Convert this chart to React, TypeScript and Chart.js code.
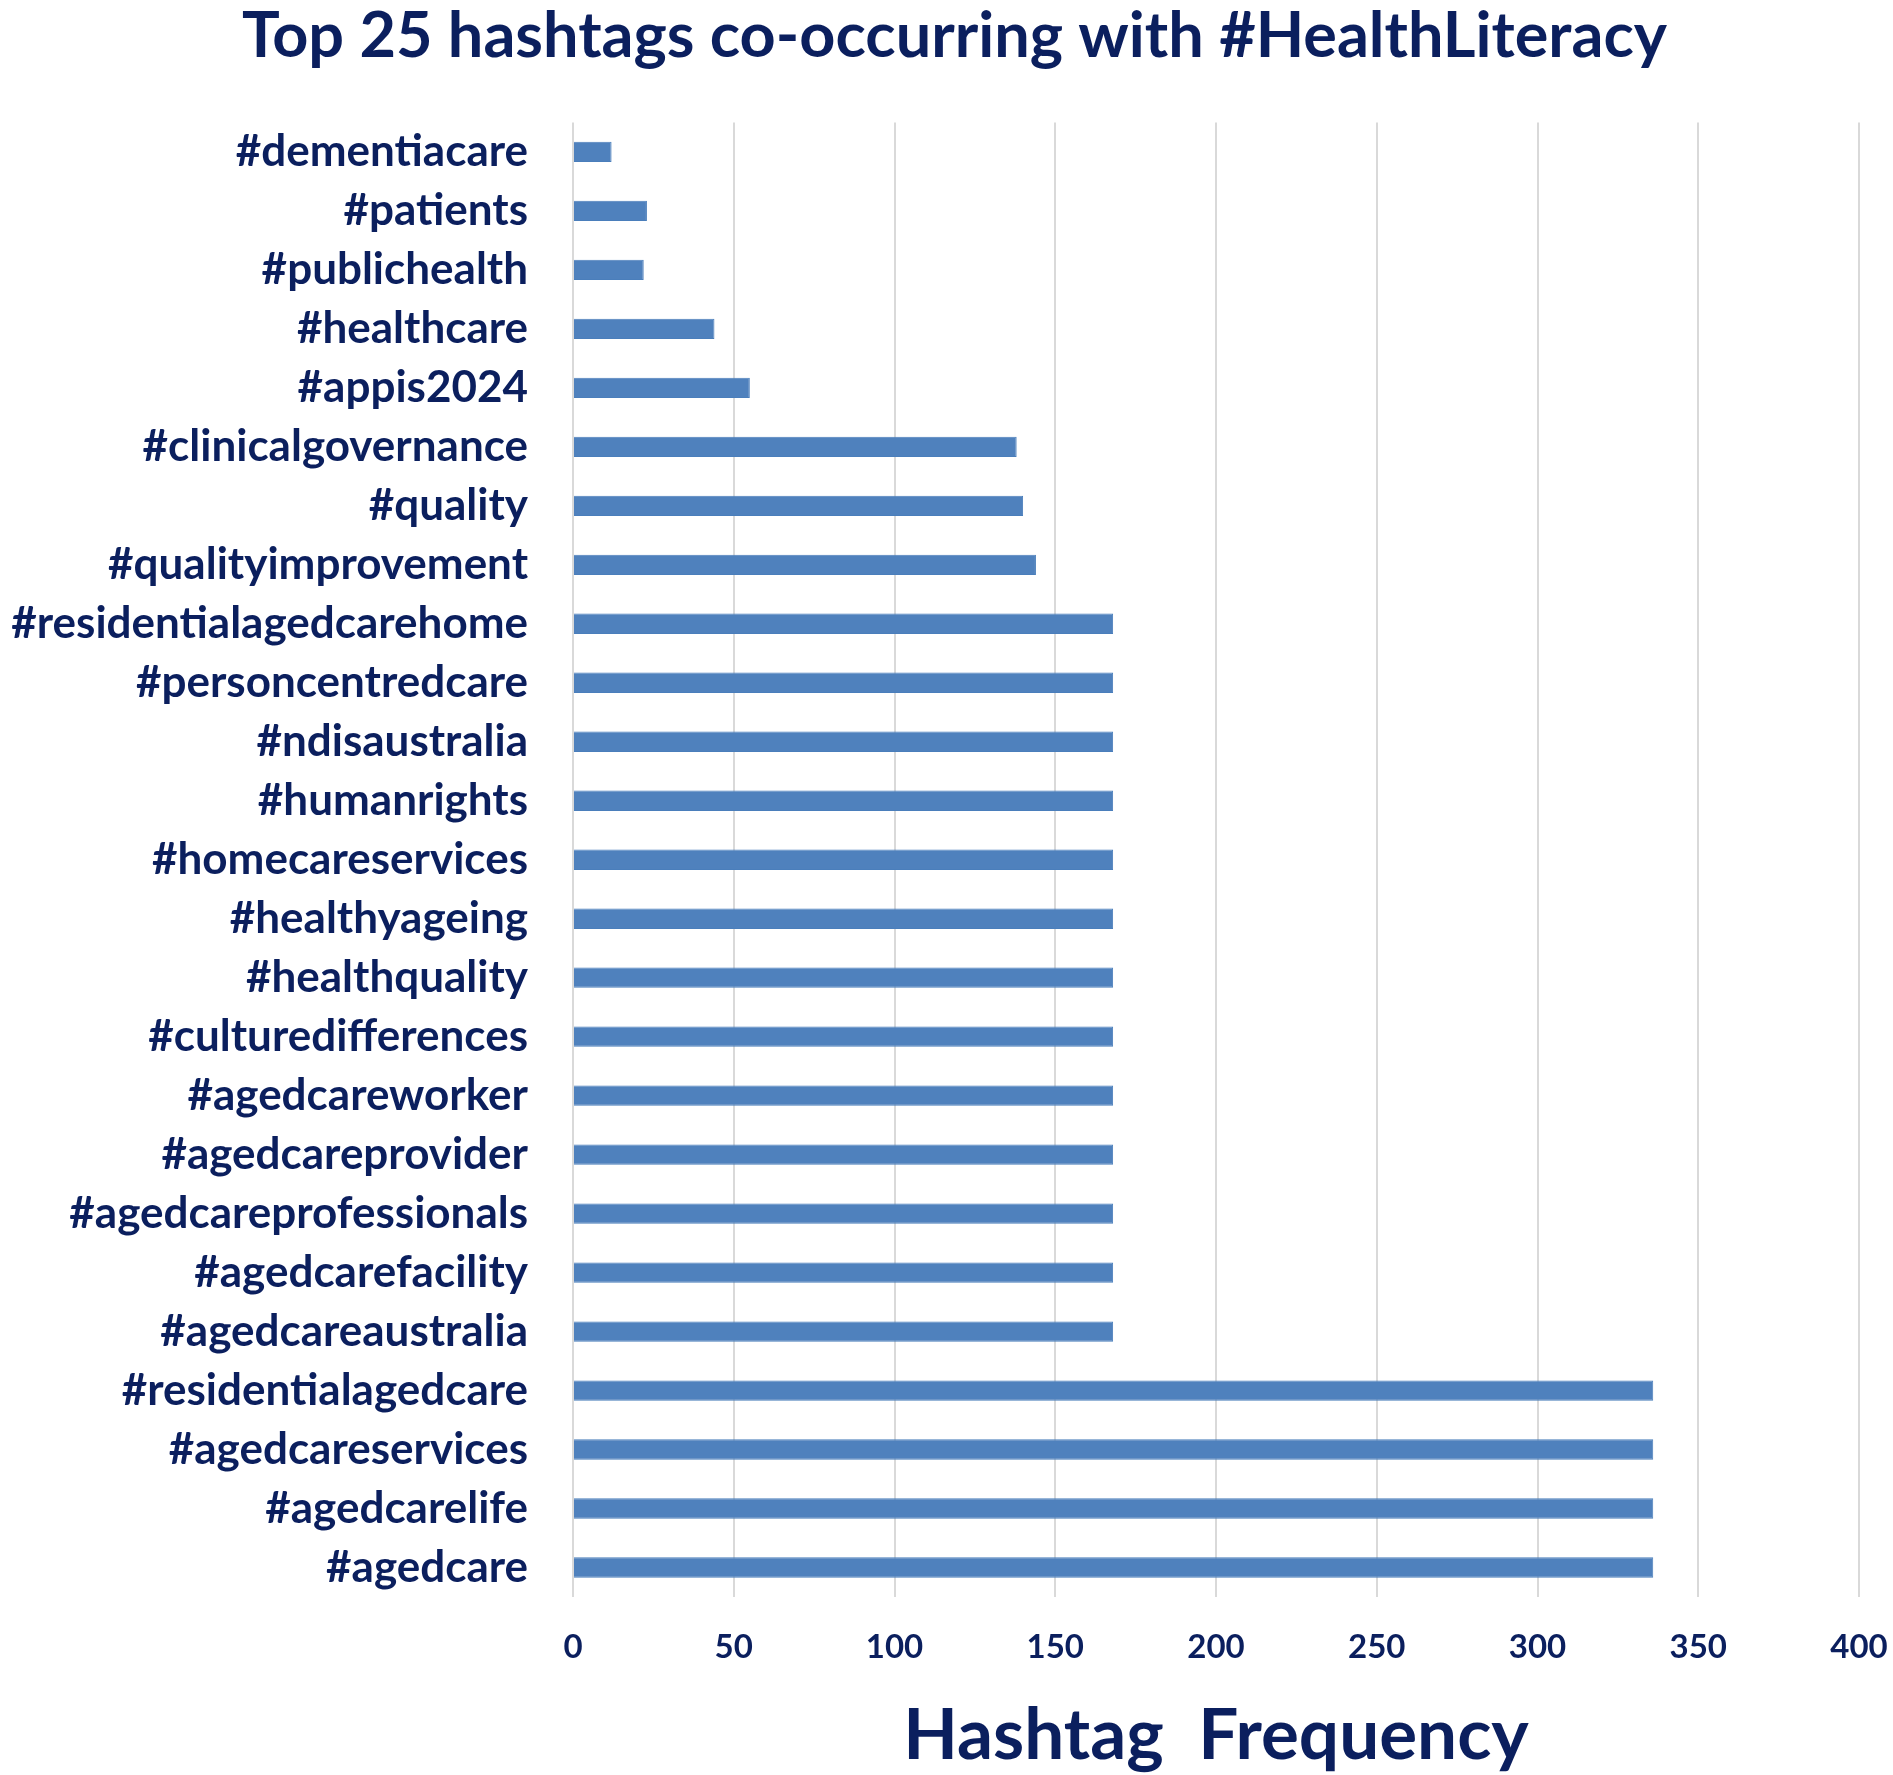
import { useEffect, useRef } from "react";
import { Chart, registerables } from "chart.js";

Chart.register(...registerables);

const hashtags = [
  "#dementiacare",
  "#patients",
  "#publichealth",
  "#healthcare",
  "#appis2024",
  "#clinicalgovernance",
  "#quality",
  "#qualityimprovement",
  "#residentialagedcarehome",
  "#personcentredcare",
  "#ndisaustralia",
  "#humanrights",
  "#homecareservices",
  "#healthyageing",
  "#healthquality",
  "#culturedifferences",
  "#agedcareworker",
  "#agedcareprovider",
  "#agedcareprofessionals",
  "#agedcarefacility",
  "#agedcareaustralia",
  "#residentialagedcare",
  "#agedcareservices",
  "#agedcarelife",
  "#agedcare",
];

const frequencies = [
  12, 23, 22, 44, 55, 138, 140, 144, 168, 168, 168, 168, 168, 168, 168, 168,
  168, 168, 168, 168, 168, 336, 336, 336, 336,
];

const xTickMin = 0;
const xTickMax = 400;
const xTickStep = 50;

const chartTitle = "Top 25 hashtags co-occurring with #HealthLiteracy";
const xAxisTitle = "Hashtag  Frequency";

const TEXT = "#0B1F5E";
const FAMILY = "Lato, 'Open Sans', sans-serif";

const shiftTitle = {
  id: "shiftTitle",
  afterLayout(chart: any) {
    if (chart.titleBlock) {
      chart.titleBlock.left = 50;
    }
  },
};

export default function App() {
  const ref = useRef<HTMLCanvasElement>(null);

  useEffect(() => {
    document.body.style.margin = "0";
    const canvas = ref.current;
    if (!canvas) return;
    const chart = new Chart(canvas, {
      type: "bar",
      data: {
        labels: hashtags,
        datasets: [
          {
            data: frequencies,
            backgroundColor: "#4F81BD",
            borderColor: "#4A7EBB",
            borderWidth: 1,
            barPercentage: 0.345,
            categoryPercentage: 1,
          },
        ],
      },
      plugins: [shiftTitle],
      options: {
        indexAxis: "y",
        animation: false,
        responsive: false,
        devicePixelRatio: 1,
        layout: { padding: { left: 0, right: 34, top: 0, bottom: 0 } },
        plugins: {
          legend: { display: false },
          tooltip: { enabled: false },
          title: {
            display: true,
            text: chartTitle,
            color: TEXT,
            font: { family: FAMILY, size: 63, weight: "bold", lineHeight: 1.15 },
            padding: { top: 0, bottom: 50 },
          },
        },
        scales: {
          x: {
            min: xTickMin,
            max: xTickMax,
            ticks: {
              stepSize: xTickStep,
              color: TEXT,
              font: { family: FAMILY, size: 33, weight: "bold" },
              padding: 31,
            },
            grid: { color: "#D9D9D9", lineWidth: 2, drawTicks: false },
            border: { display: false },
            title: {
              display: true,
              text: xAxisTitle,
              color: TEXT,
              font: { family: FAMILY, size: 71, weight: "bold", lineHeight: 1.1 },
              padding: { top: 0, bottom: 0 },
            },
            afterFit: (s: any) => {
              s.height = 178;
              s.paddingLeft = 0;
              s.paddingRight = 0;
            },
          },
          y: {
            ticks: {
              color: TEXT,
              font: { family: FAMILY, size: 44, weight: "bold" },
              padding: 45,
              autoSkip: false,
            },
            grid: { display: false, drawTicks: false },
            border: { display: false },
            afterFit: (s: any) => {
              s.width = 573;
              s.paddingTop = 0;
              s.paddingBottom = 0;
            },
          },
        },
      },
    });
    return () => chart.destroy();
  }, []);

  return (
    <div style={{ width: 1893, height: 1775 }}>
      <canvas ref={ref} width={1893} height={1775} style={{ display: "block" }} />
    </div>
  );
}
